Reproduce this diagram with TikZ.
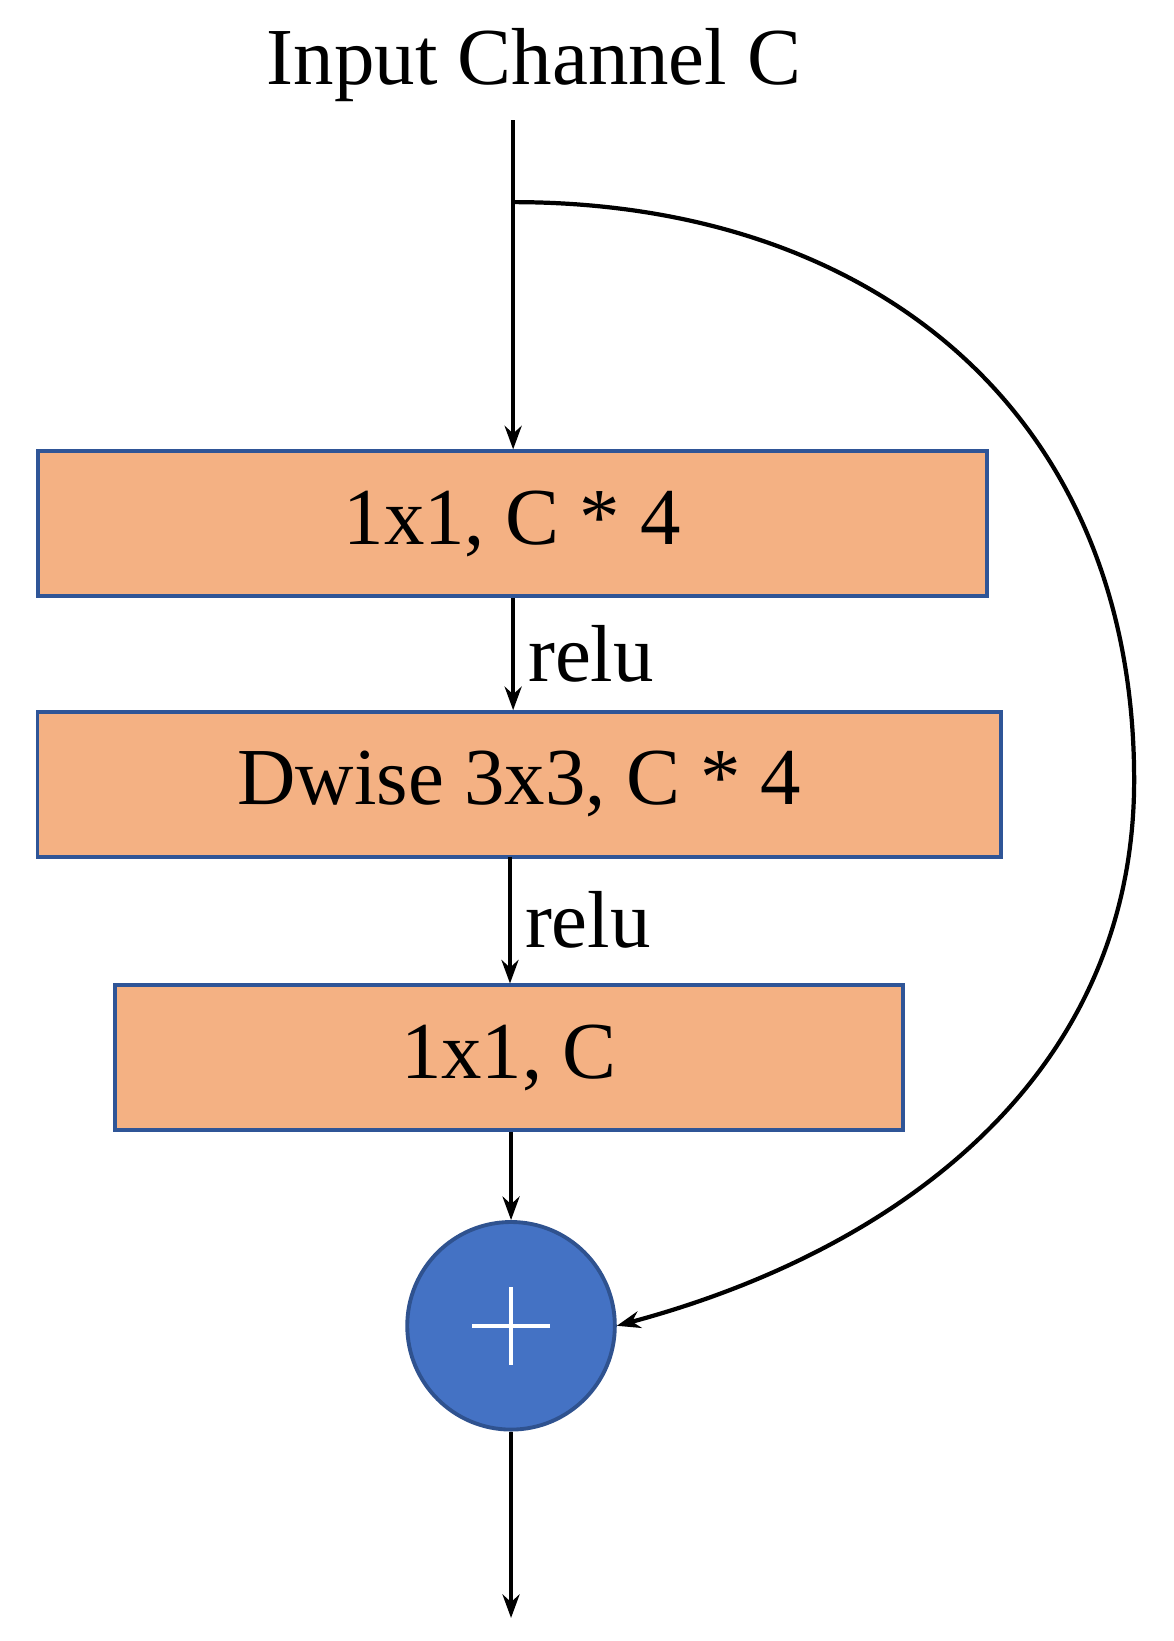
\documentclass[tikz,border=0pt]{standalone}
\usepackage{fontspec}
\setmainfont{Liberation Serif}
\usetikzlibrary{arrows.meta}
\definecolor{boxfill}{HTML}{F4B183}
\definecolor{boxline}{HTML}{2F5597}
\definecolor{addfill}{HTML}{4472C4}
\definecolor{addline}{HTML}{2F528F}

\begin{document}
\begin{tikzpicture}[x=0.02094cm,y=-0.02094cm,
    >={Stealth[length=0.47cm,width=0.34cm]},
    every node/.style={font=\fontsize{46}{52}\selectfont},
    layer/.style={draw=boxline,line width=2.2pt,fill=boxfill,inner sep=0pt},
    flow/.style={->,line width=2.4pt}]
\useasboundingbox (0,0) rectangle (1121,1567);

\node (input) at (510,62) {Input Channel C};
\coordinate (top) at (490,115);
\coordinate (split) at (490,193);
\coordinate (far) at (1083,745);

\node[layer,minimum width=18.97cm,minimum height=2.89cm] (expand) at (489,500) {1x1, C * 4};
\node[layer,minimum width=19.27cm,minimum height=2.89cm] (dwise) at (496,749) {Dwise 3x3, C * 4};
\node[layer,minimum width=15.75cm,minimum height=2.89cm] (project) at (486,1010) {1x1, C};
\node[circle,draw=addline,line width=2.2pt,fill=addfill,minimum size=4.15cm] (add) at (488,1266) {};
\draw[white,line width=2.4pt] (add.center) ++(-37,0) -- ++(74,0);
\draw[white,line width=2.4pt] (add.center) ++(0,-37) -- ++(0,74);
\coordinate (out) at (488,1545);

\draw[flow] (top) -- (expand.north -| top);
\draw[flow] (expand.south -| top) -- node[right,xshift=4pt] {relu} (dwise.north -| top);
\draw[flow] (487,818) -- node[right,xshift=4pt] {relu} (project.north -| 487,0);
\draw[flow] (project.south -| add) -- (add.north);
\draw[flow] (add.south) -- (out);

\draw[flow] (split) to[out=0,in=90,looseness=1.1] (far)
    to[out=-90,in=15,looseness=1.0] (add.east);
\end{tikzpicture}
\end{document}
